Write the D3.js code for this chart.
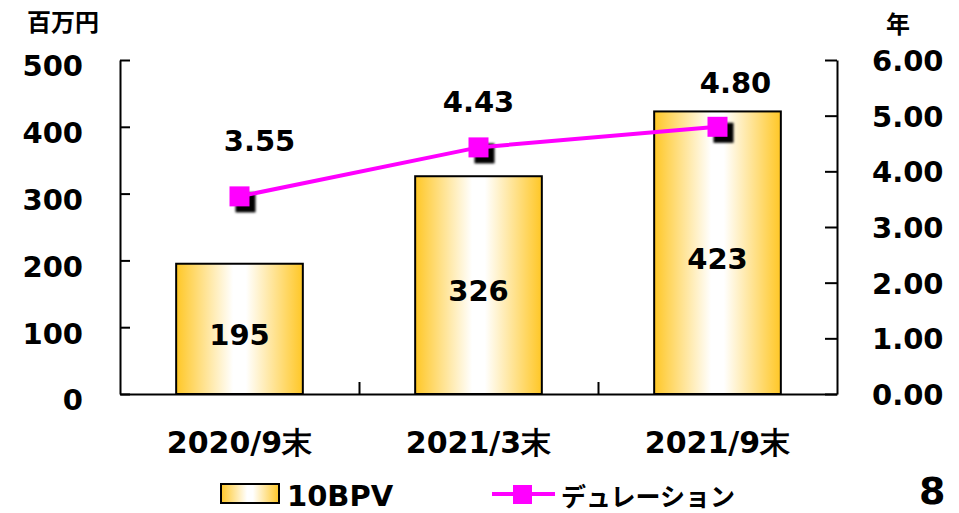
<!DOCTYPE html>
<html>
<head>
<meta charset="utf-8">
<script src="https://cdn.jsdelivr.net/npm/d3@7"></script>
<style>
  body { margin: 0; background: #fff; }
  text { font-weight: bold; fill: #000; }
</style>
</head>
<body>
<svg id="chart" width="959" height="513"></svg>
<script>
// données
const categories = ["2020/9末", "2021/3末", "2021/9末"];
const bpv = [195, 326, 423];
const duration = [3.55, 4.43, 4.80];
const bpvTicks = [0, 100, 200, 300, 400, 500];
const durTicks = [0, 1, 2, 3, 4, 5, 6];

// mise en page
const plotLeft = 120, plotRight = 837, plotTop = 60, plotBottom = 394;
const numFont = "'DejaVu Sans', Verdana, sans-serif";
const jpFont = "'Noto Sans CJK JP', sans-serif";
// décalage des étiquettes de duration comme dans l'original
const durLabelDx = [20, 0, 18];
const durLabelDy = [-45, -35, -34];

const svg = d3.select("#chart");

const defs = svg.append("defs");
const grad = defs.append("linearGradient").attr("id", "gold")
  .attr("x1", 0).attr("x2", 1).attr("y1", 0).attr("y2", 0);
[[0, "#FFC726"], [0.45, "#FFFFFF"], [0.55, "#FFFFFF"], [1, "#FFC726"]].forEach(s => {
  grad.append("stop").attr("offset", s[0]).attr("stop-color", s[1]);
});
defs.append("filter").attr("id", "blur")
  .append("feGaussianBlur").attr("stdDeviation", 1);

const x = d3.scaleBand().domain(categories).range([plotLeft, plotRight]).paddingInner(0).paddingOuter(0);
const yL = d3.scaleLinear().domain([0, 500]).range([plotBottom, plotTop]);
const yR = d3.scaleLinear().domain([0, 6]).range([plotBottom, plotTop]);
const barW = x.bandwidth() * 0.53;

// barres
svg.selectAll("rect.bar")
  .data(bpv)
  .enter().append("rect")
  .attr("class", "bar")
  .attr("x", (d, i) => x(categories[i]) + (x.bandwidth() - barW) / 2)
  .attr("y", d => yL(d))
  .attr("width", barW)
  .attr("height", d => yL(0) - yL(d))
  .attr("fill", "url(#gold)")
  .attr("stroke", "#000")
  .attr("stroke-width", 2);

svg.selectAll("text.barlab")
  .data(bpv)
  .enter().append("text")
  .attr("class", "barlab")
  .attr("x", (d, i) => x(categories[i]) + x.bandwidth() / 2)
  .attr("y", d => (yL(d) + yL(0)) / 2 + 16)
  .attr("text-anchor", "middle")
  .style("font-family", numFont)
  .style("font-size", "29px")
  .text(d => d);

// axe gauche
const axL = svg.append("g").attr("transform", `translate(${plotLeft},0)`)
  .call(d3.axisLeft(yL).tickValues(bpvTicks).tickSize(-10).tickPadding(37).tickSizeOuter(0));
axL.selectAll("text").attr("dy", "0.55em").style("font-family", numFont).style("font-size", "29px");

// axe droit
const axR = svg.append("g").attr("transform", `translate(${plotRight},0)`)
  .call(d3.axisRight(yR).tickValues(durTicks).tickSize(-12).tickPadding(35).tickSizeOuter(0)
    .tickFormat(d3.format(".2f")));
axR.selectAll("text").attr("dy", "0.36em").style("font-family", numFont).style("font-size", "29px");

// axe du bas
const xb = d3.scaleLinear().domain([0, categories.length]).range([plotLeft, plotRight]);
svg.append("g").attr("transform", `translate(0,${plotBottom})`)
  .call(d3.axisBottom(xb).tickValues(d3.range(1, categories.length)).tickSize(-12).tickFormat("").tickSizeOuter(0));
const axB = svg.append("g").attr("transform", `translate(0,${plotBottom})`)
  .call(d3.axisBottom(x).tickSize(0).tickPadding(38));
axB.select(".domain").remove();
axB.selectAll("text").style("font-family", numFont).style("font-size", "30px");

svg.selectAll(".domain, .tick line").attr("stroke", "#000").attr("stroke-width", 2);

// ligne de duration
const px = (d, i) => x(categories[i]) + x.bandwidth() / 2;
const ms = 20;

svg.selectAll("rect.shadow")
  .data(duration)
  .enter().append("rect")
  .attr("class", "shadow")
  .attr("x", (d, i) => px(d, i) - ms / 2 + 6)
  .attr("y", d => yR(d) - ms / 2 + 6)
  .attr("width", ms).attr("height", ms)
  .attr("fill", "#000")
  .attr("filter", "url(#blur)");

svg.append("path")
  .datum(duration)
  .attr("d", d3.line().x(px).y(d => yR(d)))
  .attr("fill", "none")
  .attr("stroke", "#FF00FF")
  .attr("stroke-width", 4);

svg.selectAll("rect.marker")
  .data(duration)
  .enter().append("rect")
  .attr("class", "marker")
  .attr("x", (d, i) => px(d, i) - ms / 2)
  .attr("y", d => yR(d) - ms / 2)
  .attr("width", ms).attr("height", ms)
  .attr("fill", "#FF00FF");

svg.selectAll("text.durlab")
  .data(duration)
  .enter().append("text")
  .attr("class", "durlab")
  .attr("x", (d, i) => px(d, i) + durLabelDx[i])
  .attr("y", (d, i) => yR(d) + durLabelDy[i])
  .attr("text-anchor", "middle")
  .style("font-family", numFont)
  .style("font-size", "29px")
  .text(d => d3.format(".2f")(d));

// unités
svg.append("text").attr("x", 27).attr("y", 31)
  .style("font-family", jpFont).style("font-size", "24px").text("百万円");
svg.append("text").attr("x", 886).attr("y", 33)
  .style("font-family", jpFont).style("font-size", "24px").text("年");

// légende
const lg = svg.append("g");
lg.append("rect").attr("x", 221).attr("y", 484).attr("width", 58).attr("height", 19)
  .attr("fill", "url(#gold)").attr("stroke", "#000").attr("stroke-width", 2);
lg.append("text").attr("x", 287).attr("y", 506)
  .style("font-family", numFont).style("font-size", "29px").text("10BPV");
lg.append("line").attr("x1", 492).attr("x2", 555).attr("y1", 494).attr("y2", 494)
  .attr("stroke", "#FF00FF").attr("stroke-width", 4);
lg.append("rect").attr("x", 513).attr("y", 485).attr("width", 19).attr("height", 19)
  .attr("fill", "#FF00FF");
lg.append("text").attr("x", 561).attr("y", 506)
  .style("font-family", jpFont).style("font-size", "25px").text("デュレーション");

// numéro de page
svg.append("text").attr("x", 919).attr("y", 504)
  .style("font-family", numFont).style("font-size", "38px").text("8");
</script>
</body>
</html>
